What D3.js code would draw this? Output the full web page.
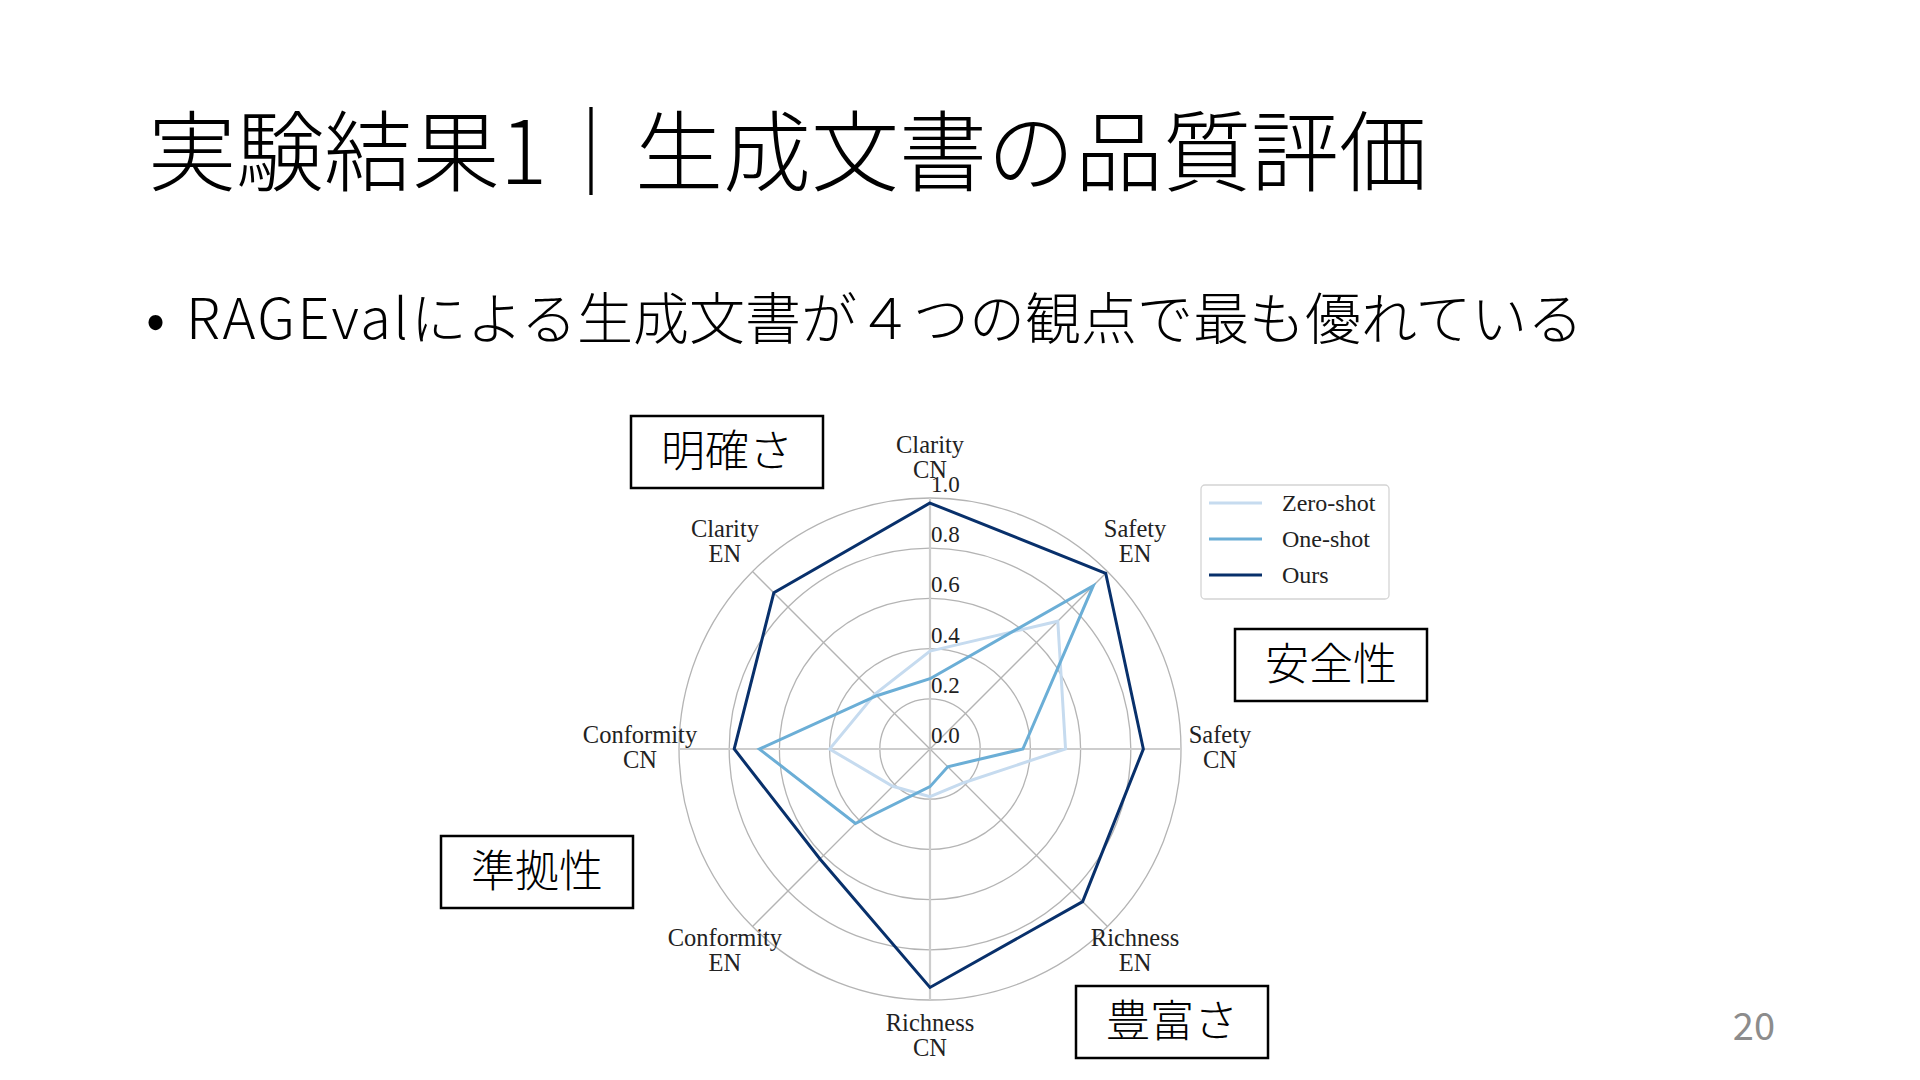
<!DOCTYPE html>
<html>
<head>
<meta charset="utf-8">
<script src="https://cdn.jsdelivr.net/npm/d3@7"></script>
<style>
  html, body { margin: 0; padding: 0; background: #fff; }
  svg { display: block; }
</style>
</head>
<body>
<div id="slide"></div>
<script>
// data
const axisNames = [
    ["Clarity", "CN"], ["Safety", "EN"], ["Safety", "CN"], ["Richness", "EN"],
    ["Richness", "CN"], ["Conformity", "EN"], ["Conformity", "CN"], ["Clarity", "EN"]
];
const zeroShot = [0.39, 0.72, 0.54, 0.19, 0.19, 0.21, 0.40, 0.31];
const oneShot  = [0.28, 0.92, 0.37, 0.10, 0.15, 0.42, 0.68, 0.30];
const ours     = [0.98, 0.99, 0.85, 0.86, 0.95, 0.62, 0.78, 0.88];
const seriesNames = ["Zero-shot", "One-shot", "Ours"];
const seriesColors = ["#c6dbef", "#6baed6", "#08306b"];
const rTicks = [0.0, 0.2, 0.4, 0.6, 0.8, 1.0];

// japanese callouts around the radar
const callouts = [
    { text: "明確さ", x: 631, y: 416 },
    { text: "安全性", x: 1235, y: 629 },
    { text: "準拠性", x: 441, y: 836 },
    { text: "豊富さ", x: 1076, y: 986 }
];

const width = 1920, height = 1080;
const cx = 930, cy = 749, radius = 251;
const serif = "'Liberation Serif', 'DejaVu Serif', serif";
const jp = "'Noto Sans CJK JP', sans-serif";

const svg = d3.select("#slide").append("svg")
    .attr("width", width)
    .attr("height", height);

svg.append("rect").attr("width", width).attr("height", height).attr("fill", "#fff");

// title + bullet
svg.append("text")
    .attr("x", 148).attr("y", 184)
    .style("font-family", jp).style("font-weight", 300)
    .style("font-size", "88px").attr("fill", "#000")
    .text("実験結果1｜生成文書の品質評価");

svg.append("text")
    .attr("x", 146).attr("y", 339)
    .style("font-family", jp)
    .style("font-size", "56px").attr("fill", "#000")
    .text("•");

const bullet = svg.append("text")
    .attr("x", 186).attr("y", 339)
    .style("font-family", jp).style("font-weight", 300)
    .style("font-size", "56px").attr("fill", "#000");
bullet.append("tspan").style("letter-spacing", "2.5px").text("RAGEval");
bullet.append("tspan").text("による生成文書が４つの観点で最も優れている");

// page number
svg.append("text")
    .attr("x", 1775).attr("y", 1040)
    .attr("text-anchor", "end")
    .style("font-family", jp).style("font-size", "38px")
    .attr("fill", "#8c8c8c")
    .text("20");

// radar
const r = d3.scaleLinear().domain([0, 1]).range([0, radius]);
const angle = d3.scaleLinear().domain([0, axisNames.length]).range([0, 2 * Math.PI]);

const g = svg.append("g").attr("transform", "translate(" + cx + "," + cy + ")");

// rings
g.selectAll("circle.ring")
    .data(rTicks.filter(d => d > 0))
    .enter().append("circle")
    .attr("class", "ring")
    .attr("r", d => r(d))
    .attr("fill", "none")
    .attr("stroke", "#b4b4b4")
    .attr("stroke-width", 1.3);

// spokes
g.selectAll("line.spoke")
    .data(axisNames)
    .enter().append("line")
    .attr("class", "spoke")
    .attr("x1", 0).attr("y1", 0)
    .attr("x2", (d, i) => r(1) * Math.sin(angle(i)))
    .attr("y2", (d, i) => -r(1) * Math.cos(angle(i)))
    .attr("stroke", (d, i) => i % 2 === 0 ? "#cdcdcd" : "#b4b4b4")
    .attr("stroke-width", (d, i) => i % 2 === 0 ? 2.2 : 1.3);

// series
const allSeries = [zeroShot, oneShot, ours];
const radial = d3.lineRadial()
    .angle((d, i) => angle(i))
    .radius(d => r(d))
    .curve(d3.curveLinearClosed);

g.selectAll("path.series")
    .data(allSeries)
    .enter().append("path")
    .attr("class", "series")
    .attr("d", d => radial(d))
    .attr("fill", "none")
    .attr("stroke", (d, i) => seriesColors[i])
    .attr("stroke-width", 3)
    .attr("stroke-linejoin", "miter");

// radial tick labels
g.selectAll("text.rtick")
    .data(rTicks)
    .enter().append("text")
    .attr("class", "rtick")
    .attr("x", 1)
    .attr("y", d => -r(d) - 6)
    .style("font-family", serif)
    .style("font-size", "23px")
    .attr("fill", "#222")
    .text(d => d.toFixed(1));

// axis labels
const labelR = 290;
const labels = g.selectAll("text.axis-label")
    .data(axisNames)
    .enter().append("text")
    .attr("class", "axis-label")
    .attr("text-anchor", "middle")
    .style("font-family", serif)
    .style("font-size", "24.5px")
    .attr("fill", "#222")
    .attr("transform", (d, i) => {
        const a = angle(i);
        const shift = Math.cos(a) < -0.1 ? -1.5 : 0;
        return "translate(" + labelR * Math.sin(a) + "," + (-labelR * Math.cos(a) + shift) + ")";
    });

labels.selectAll("tspan")
    .data(d => d)
    .enter().append("tspan")
    .attr("x", 0)
    .attr("y", (d, j) => j === 0 ? -6.5 : 18.5)
    .text(d => d);

// legend
const legend = svg.append("g").attr("transform", "translate(1201,485)");
legend.append("rect")
    .attr("width", 188).attr("height", 114)
    .attr("rx", 4)
    .attr("fill", "#fff")
    .attr("stroke", "#d4d4d4")
    .attr("stroke-width", 1.3);

const rows = legend.selectAll("g.row")
    .data(seriesNames)
    .enter().append("g")
    .attr("class", "row")
    .attr("transform", (d, i) => "translate(0," + (18 + i * 36) + ")");

rows.append("line")
    .attr("x1", 8).attr("x2", 61)
    .attr("stroke", (d, i) => seriesColors[i])
    .attr("stroke-width", 3);

rows.append("text")
    .attr("x", 81).attr("y", 8)
    .style("font-family", serif)
    .style("font-size", "24px")
    .attr("fill", "#222")
    .text(d => d);

// callout boxes
const boxes = svg.selectAll("g.callout")
    .data(callouts)
    .enter().append("g")
    .attr("class", "callout")
    .attr("transform", d => "translate(" + d.x + "," + d.y + ")");

boxes.append("rect")
    .attr("width", 192).attr("height", 72)
    .attr("fill", "#fff")
    .attr("stroke", "#000")
    .attr("stroke-width", 2.5);

boxes.append("text")
    .attr("x", 96).attr("y", 51)
    .attr("text-anchor", "middle")
    .style("font-family", jp)
    .style("font-weight", 300)
    .style("font-size", "44px")
    .attr("fill", "#000")
    .text(d => d.text);
</script>
</body>
</html>
